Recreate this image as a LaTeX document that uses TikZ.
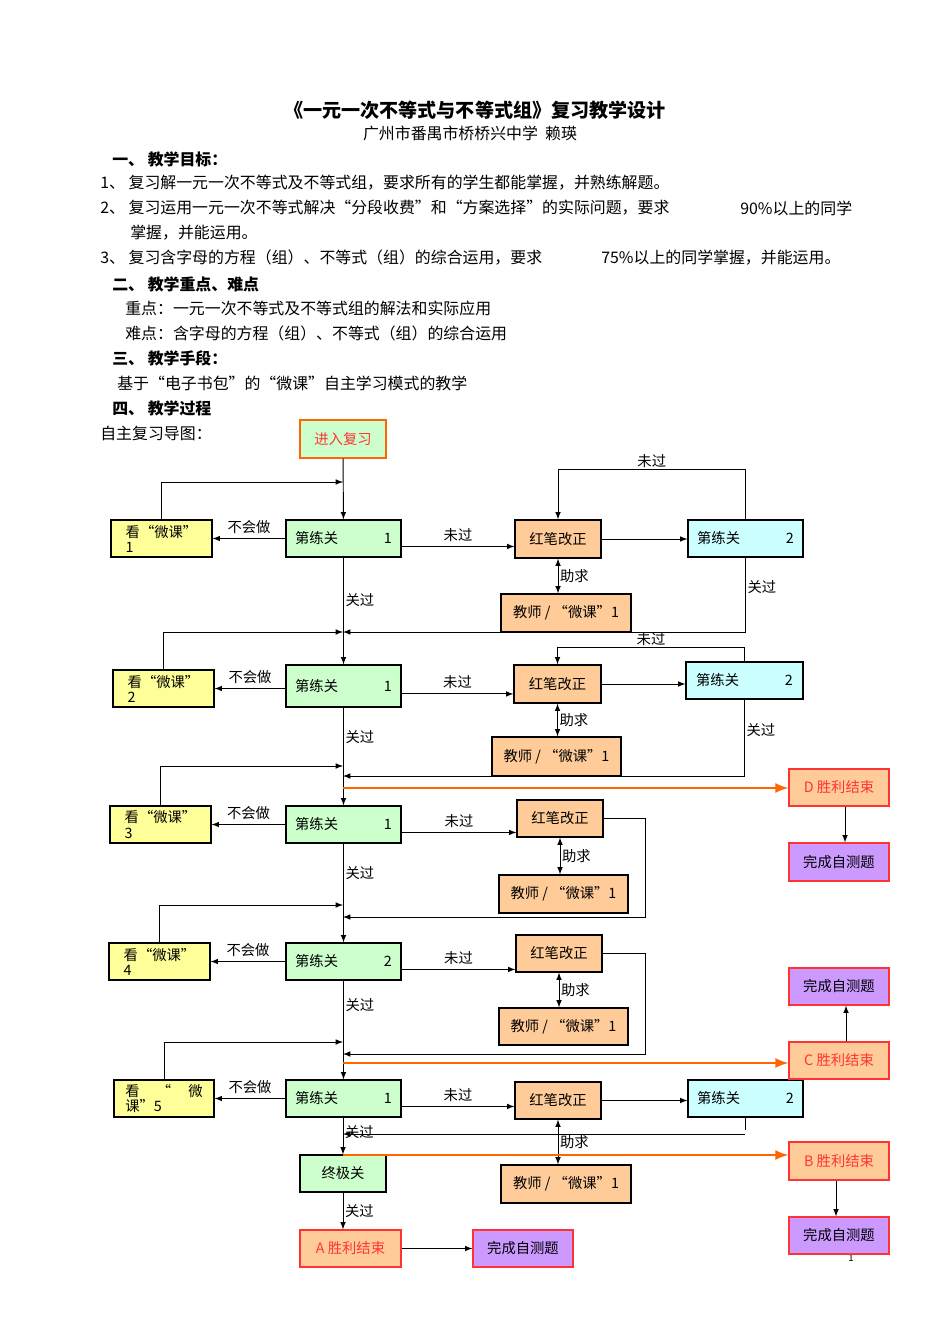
\documentclass[tikz,border=0pt]{standalone}
\usepackage{fontspec}
\setmainfont{Noto Sans CJK SC}
\usepackage{tikz}
\usetikzlibrary{arrows,positioning}
\definecolor{boxgreen}{HTML}{CCFFCC}
\definecolor{boxyellow}{HTML}{FFFF99}
\definecolor{boxorange}{HTML}{FFCC99}
\definecolor{boxcyan}{HTML}{CCFFFF}
\definecolor{boxpurple}{HTML}{CC99FF}
\definecolor{lineorange}{HTML}{FF6600}
\definecolor{winred}{HTML}{FF3333}
% box from corner (#2,#3) to corner (#4,#5), in pixels
\newcommand\boxat[7]{\node[#6, minimum width=#4*0.0221cm-#2*0.0221cm, minimum height=#5*0.0221cm-#3*0.0221cm] (#1) at ({(#2+#4)/2},{(#3+#5)/2}) {#7};}
\begin{document}
\begin{tikzpicture}[
    x=0.0221cm, y=-0.0221cm,
    >=latex,
    body/.style={anchor=west, inner sep=0pt, font=\fontsize{10}{12}\selectfont},
    head/.style={body, font=\fontsize{10}{12}\selectfont\bfseries},
    box/.style={rectangle, draw, thick, inner sep=2pt, font=\fontsize{9}{10}\selectfont, align=left},
    watch/.style={box, fill=boxyellow, font=\fontsize{9}{9.5}\selectfont},
    level/.style={box, fill=boxgreen},
    fix/.style={box, fill=boxorange},
    level2/.style={box, fill=boxcyan},
    test/.style={box, fill=boxpurple, draw=winred},
    win/.style={box, fill=boxorange, draw=winred, text=winred},
    lbl/.style={font=\fontsize{9}{10}\selectfont, inner sep=1pt},
    arrow/.style={->, semithick},
    goal/.style={->, line width=1.8pt, lineorange}
]
\useasboundingbox (0,0) rectangle (950,1344);

% Header text
\node[font=\fontsize{12}{14}\selectfont\bfseries] (title) at (475,110) {《一元一次不等式与不等式组》复习教学设计};
\node[font=\fontsize{10}{12}\selectfont] (author) at (470,133) {广州市番禺市桥桥兴中学\ \ 赖瑛};
\node[head] (s1) at (112,159) {一、\ 教学目标：};
\node[body] (g1) at (100,183) {1、\ 复习解一元一次不等式及不等式组，要求所有的学生都能掌握，并熟练解题。};
\node[body] (g2) at (100,208) {2、\ 复习运用一元一次不等式解决“分段收费”和“方案选择”的实际问题，要求};
\node[body] (g2b) at (740,208) {90\%以上的同学};
\node[body] (g2c) at (130,233) {掌握，并能运用。};
\node[body] (g3) at (100,258) {3、\ 复习含字母的方程（组）、不等式（组）的综合运用，要求};
\node[body] (g3b) at (601,258) {75\%以上的同学掌握，并能运用。};
\node[head] (s2) at (112,284) {二、\ 教学重点、难点};
\node[body] (k1) at (125,308) {重点：一元一次不等式及不等式组的解法和实际应用};
\node[body] (k2) at (125,333) {难点：含字母的方程（组）、不等式（组）的综合运用};
\node[head] (s3) at (112,358) {三、\ 教学手段：};
\node[body] (m1) at (117,383) {基于“电子书包”的“微课”自主学习模式的教学};
\node[head] (s4) at (112,408) {四、\ 教学过程};
\node[body] (map) at (100,433) {自主复习导图：};
\node[font=\fontsize{6}{7}\selectfont] (page) at (851,1258) {1};

% Boxes
\boxat{start}{300}{420}{386}{458}{level, draw=lineorange, text=winred, align=center}{进入复习}
% row 1
\boxat{w1}{111}{520}{212}{557}{watch}{看“微课”\\1}
\boxat{p1}{286}{520}{401}{557}{level}{第练关\hspace{3.2em}1}
\boxat{r1}{515}{520}{601}{558}{fix, align=center}{红笔改正}
\boxat{q1}{688}{520}{803}{557}{level2}{第练关\hspace{3.2em}2}
\boxat{t1}{501}{594}{631}{632}{fix, align=center}{教师 / “微课”1}
% row 2
\boxat{w2}{113}{670}{214}{707}{watch}{看“微课”\\2}
\boxat{p2}{286}{665}{401}{707}{level}{第练关\hspace{3.2em}1}
\boxat{r2}{514}{665}{601}{703}{fix, align=center}{红笔改正}
\boxat{q2}{686}{662}{803}{699}{level2}{第练关\hspace{3.2em}2}
\boxat{t2}{492}{737}{621}{776}{fix, align=center}{教师 / “微课”1}
% row 3
\boxat{w3}{110}{806}{211}{843}{watch}{看“微课”\\3}
\boxat{p3}{286}{806}{401}{843}{level}{第练关\hspace{3.2em}1}
\boxat{r3}{517}{800}{603}{837}{fix, align=center}{红笔改正}
\boxat{t3}{499}{875}{628}{913}{fix, align=center}{教师 / “微课”1}
% row 4
\boxat{w4}{109}{943}{210}{980}{watch}{看“微课”\\4}
\boxat{p4}{286}{943}{401}{980}{level}{第练关\hspace{3.2em}2}
\boxat{r4}{516}{935}{602}{972}{fix, align=center}{红笔改正}
\boxat{t4}{499}{1008}{628}{1045}{fix, align=center}{教师 / “微课”1}
% row 5
\boxat{w5}{114}{1080}{214}{1117}{watch}{看\hspace{1.2em}“\hspace{1.2em}微\\课”5}
\boxat{p5}{286}{1080}{401}{1117}{level}{第练关\hspace{3.2em}1}
\boxat{r5}{515}{1082}{601}{1119}{fix, align=center}{红笔改正}
\boxat{q5}{688}{1080}{803}{1117}{level2}{第练关\hspace{3.2em}2}
\boxat{t5}{501}{1165}{631}{1203}{fix, align=center}{教师 / “微课”1}
\boxat{final}{300}{1155}{386}{1192}{level}{终极关}
% endings
\boxat{winA}{300}{1230}{401}{1267}{win}{A 胜利结束}
\boxat{testA}{473}{1230}{573}{1267}{test}{完成自测题}
\boxat{winB}{789}{1142}{889}{1180}{win}{B 胜利结束}
\boxat{testB}{789}{1217}{889}{1254}{test}{完成自测题}
\boxat{winC}{789}{1042}{889}{1079}{win}{C 胜利结束}
\boxat{testC}{789}{968}{889}{1005}{test}{完成自测题}
\boxat{winD}{789}{769}{889}{806}{win}{D 胜利结束}
\boxat{testD}{789}{843}{889}{881}{test}{完成自测题}

% Merge points on the main line
\coordinate (m1) at (343,482);
\coordinate (m2) at (343,632);
\coordinate (m3) at (343,766);
\coordinate (m4) at (343,776);
\coordinate (m5) at (343,905);
\coordinate (m6) at (343,917);
\coordinate (m7) at (343,1042);
\coordinate (m8) at (343,1054);
\coordinate (m9) at (343,1134);
\coordinate (q5end) at (745,1134);

% Main line
\draw[arrow] (start) -- (p1);
\draw[arrow] (p1) -- (p2) node[lbl, pos=0.4, right] {关过};
\draw[arrow] (p2) -- (p3) node[lbl, pos=0.3, right] {关过};
\draw[arrow] (p3) -- (p4) node[lbl, pos=0.3, right] {关过};
\draw[arrow] (p4) -- (p5) node[lbl, pos=0.25, right] {关过};
\draw[arrow] (final |- p5.south) -- (final) node[lbl, pos=0.4, right] {关过};
\draw[arrow] (final) -- (final |- winA.north) node[lbl, midway, right] {关过};
\draw[arrow] (winA) -- (testA);

% Watch loops
\foreach \w/\m in {w1/m1, w2/m2, w3/m3, w4/m5, w5/m7}
  \draw[arrow] (\w.north) |- (\m);
\foreach \p/\w in {p1/w1, p2/w2, p3/w3, p4/w4, p5/w5}
  \draw[arrow] (\p.west |- \w) -- (\w.east) node[lbl, midway, above=2pt] {不会做};

% Practice to correction
\foreach \p/\r in {p1/r1, p2/r2, p3/r3, p4/r4, p5/r5}
  \draw[arrow] ([yshift=-5pt]\p.east) -- ([yshift=-5pt]\p.east -| \r.west) node[lbl, midway, above=2pt] {未过};
\foreach \r/\t in {r1/t1, r2/t2, r3/t3, r4/t4, r5/t5}
  \draw[<->, semithick] (\r) -- (\r.south |- \t.north) node[lbl, midway, right] {助求};
\foreach \r/\q in {r1/q1, r2/q2, r5/q5}
  \draw[arrow] (\r) -- (\q.west |- \r);

% Second practice back to the main line
\draw[arrow] (q1.north) -- ++(0,-50) -| (r1.north) node[lbl, pos=0.25, above] {未过};
\draw[arrow] (q2.north) -- ++(0,-14) -| (r2.north) node[lbl, pos=0.25, above] {未过};
\draw[arrow] (q1.south) |- (m2) node[lbl, pos=0.2, right] {关过};
\draw[arrow] (q2.south) |- (m4) node[lbl, pos=0.2, right] {关过};
\draw[arrow] (r3.east) -- ++(42,0) |- (m6);
\draw[arrow] (r4.east) -- ++(43,0) |- (m8);
\draw (q5.south) -- ++(0,12);
\draw[arrow] (q5end) -- (m9);

% Goals
\draw[goal] (m3 |- 0,788) -- (winD.west |- 0,788);
\draw[goal] (m8 |- 0,1063) -- (winC.west |- 0,1063);
\draw[goal] (m9 |- 0,1155) -- (winB.west |- 0,1155);
\draw[arrow] (winD.south -| 845,0) -- (testD.north -| 845,0);
\draw[arrow] (winC.north -| 846,0) -- (testC.south -| 846,0);
\draw[arrow] (winB.south -| 836,0) -- (testB.north -| 836,0);
\end{tikzpicture}
\end{document}
